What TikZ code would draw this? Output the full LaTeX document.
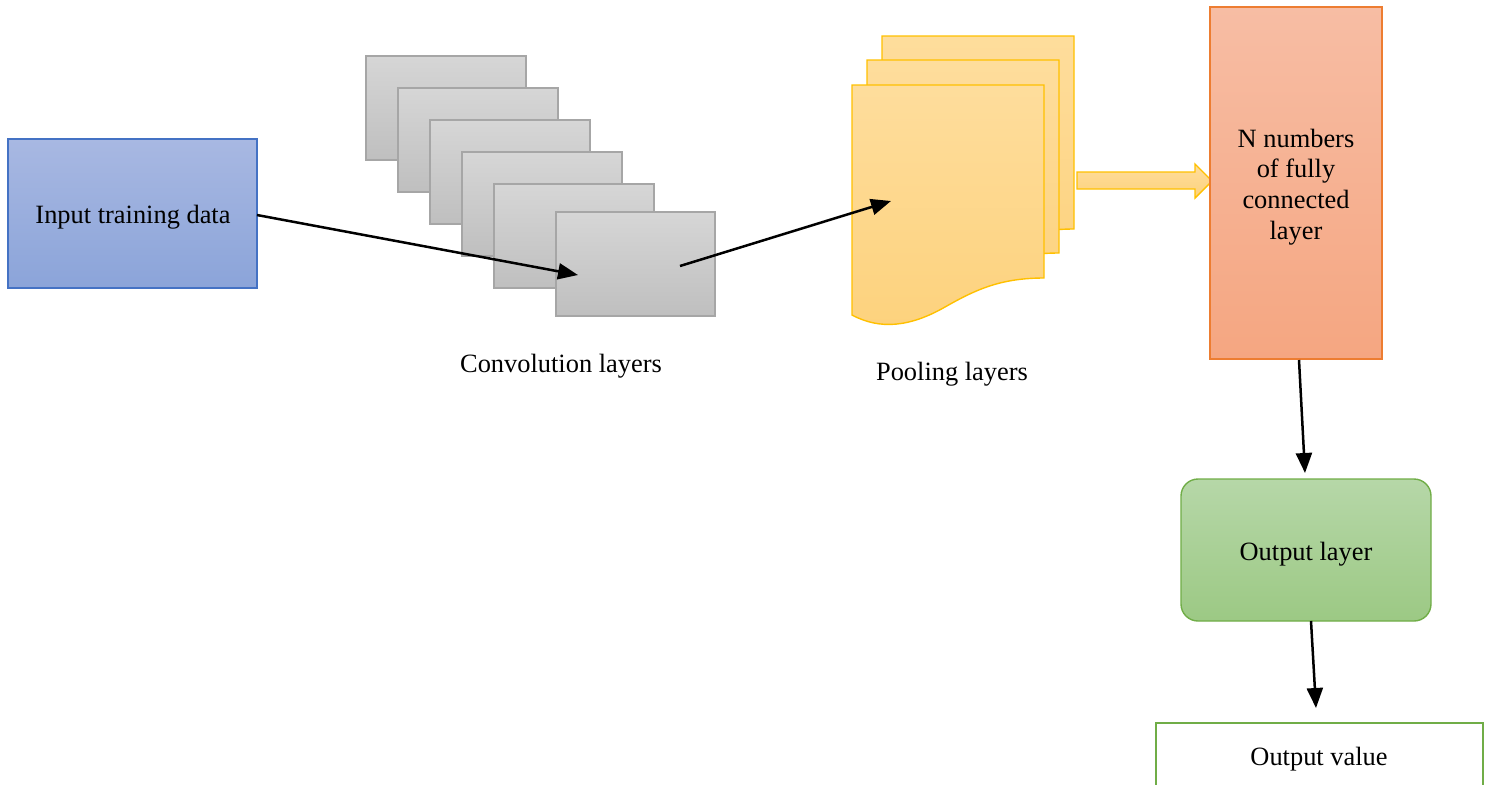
\documentclass[tikz,border=0pt]{standalone}
\usepackage{fontspec}
\setmainfont{Liberation Serif}
\usetikzlibrary{arrows.meta}
\definecolor{inpTop}{HTML}{A8B8E2}
\definecolor{inpBot}{HTML}{8BA4D9}
\definecolor{inpLine}{HTML}{4472C4}
\definecolor{cnvTop}{HTML}{D6D6D6}
\definecolor{cnvBot}{HTML}{BFBFBF}
\definecolor{cnvLine}{HTML}{A6A6A6}
\definecolor{poolTop}{HTML}{FEDD9C}
\definecolor{poolBot}{HTML}{FDD27D}
\definecolor{poolLine}{HTML}{FFC000}
\definecolor{fcTop}{HTML}{F7BDA4}
\definecolor{fcBot}{HTML}{F5A681}
\definecolor{fcLine}{HTML}{ED7D31}
\definecolor{outTop}{HTML}{B6D7A8}
\definecolor{outBot}{HTML}{9CC984}
\definecolor{outLine}{HTML}{70AD47}
\tikzset{
  lbl/.style={font=\fontsize{13.2}{15.4}\selectfont, inner sep=0pt},
  conn/.style={line width=1.25pt, -{Triangle[length=10pt,width=8pt]}},
  cnvbox/.style={draw=cnvLine, line width=0.6pt, top color=cnvTop, bottom color=cnvBot},
  pooldoc/.style={draw=poolLine, line width=0.7pt, top color=poolTop, bottom color=poolBot},
}
\begin{document}
\begin{tikzpicture}[x=0.5pt,y=-0.5pt]
\useasboundingbox (0,0) rectangle (1490,784);
\clip (0,0) rectangle (1490,784);
% input
\path[draw=inpLine, line width=0.7pt, top color=inpTop, bottom color=inpBot] (8,139) rectangle (257,288);
\node[lbl] (inp) at (133,217) {Input training data};
% convolution stack
\foreach \i in {0,...,4}{
  \path[cnvbox] (366+32*\i,56+32*\i) rectangle +(160,104);
}
\path[cnvbox] (556,212) rectangle (715,316);
\node[lbl] (convlbl) at (561,366) {Convolution layers};
% pooling stack
\foreach \dx/\dy in {30/-49,15/-25,0/0}{
  \begin{scope}[shift={(\dx,\dy)}]
  \path[pooldoc] (852,85) -- (1044,85) -- (1044,278)
     .. controls (1000,278) and (975,290) .. (945,307)
     .. controls (910,327) and (880,330) .. (852,315) -- cycle;
  \end{scope}
}
\node[lbl] (poollbl) at (952,374) {Pooling layers};
% block arrow
\path[draw=poolLine, line width=0.7pt, top color=poolTop, bottom color=poolBot]
  (1077,172) -- (1195,172) -- (1195,164) -- (1212,181) -- (1195,198) -- (1195,189) -- (1077,189) -- cycle;
% fully connected
\path[draw=fcLine, line width=0.7pt, top color=fcTop, bottom color=fcBot] (1210,7) rectangle (1382,359);
\node[lbl, align=center] (fc) at (1296,187) {N numbers\\of fully\\connected\\layer};
% output layer
\path[draw=outLine, line width=0.7pt, top color=outTop, bottom color=outBot, rounded corners=8.5pt] (1181,479) rectangle (1431,621);
\node[lbl] (outl) at (1306,554) {Output layer};
% output value
\path[draw=outLine, line width=1.4pt, fill=white] (1156,723) rectangle (1483,800);
\node[lbl] (outv) at (1319,759) {Output value};
% connectors
\coordinate (a1s) at (257,215);
\coordinate (a1e) at (578,275);
\coordinate (a2s) at (680,266);
\coordinate (a2e) at (891,201);
\coordinate (a3s) at (1299,360);
\coordinate (a3e) at (1305,473);
\coordinate (a4s) at (1311,621);
\coordinate (a4e) at (1316,708);
\draw[conn] (a1s) -- (a1e);
\draw[conn] (a2s) -- (a2e);
\draw[conn] (a3s) -- (a3e);
\draw[conn] (a4s) -- (a4e);
\end{tikzpicture}
\end{document}
